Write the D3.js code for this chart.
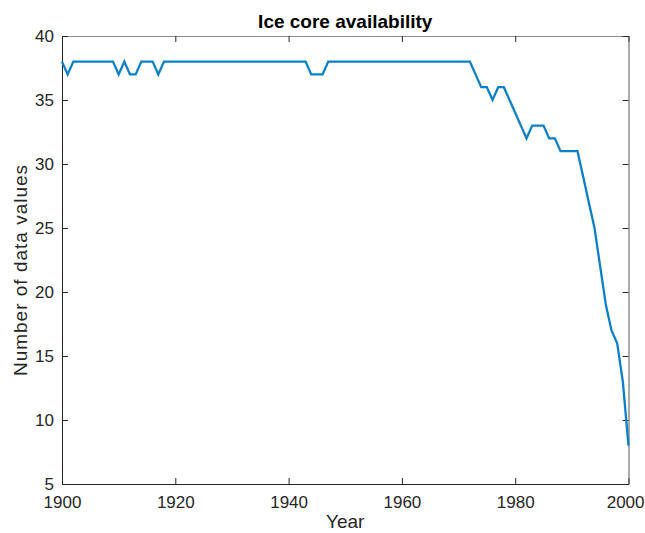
<!DOCTYPE html>
<html>
<head>
<meta charset="utf-8">
<script src="https://cdn.jsdelivr.net/npm/d3@7"></script>
<style>
  html, body { margin: 0; padding: 0; background: #fff; }
  svg { display: block; }
  text { font-family: "Liberation Sans", Arial, Helvetica, sans-serif; }
</style>
</head>
<body>
<svg id="chart" width="645" height="533"></svg>
<script>
// Number of ice core records available per year
const years = d3.range(1900, 2001);
const counts = [
  38, 37, 38, 38, 38, 38, 38, 38, 38, 38, // 1900-1909
  37, 38, 37, 37, 38, 38, 38, 37, 38, 38, // 1910-1919
  38, 38, 38, 38, 38, 38, 38, 38, 38, 38, // 1920-1929
  38, 38, 38, 38, 38, 38, 38, 38, 38, 38, // 1930-1939
  38, 38, 38, 38, 37, 37, 37, 38, 38, 38, // 1940-1949
  38, 38, 38, 38, 38, 38, 38, 38, 38, 38, // 1950-1959
  38, 38, 38, 38, 38, 38, 38, 38, 38, 38, // 1960-1969
  38, 38, 38, 37, 36, 36, 35, 36, 36, 35, // 1970-1979
  34, 33, 32, 33, 33, 33, 32, 32, 31, 31, // 1980-1989
  31, 31, 29, 27, 25, 22, 19, 17, 16, 13, // 1990-1999
  8                                       // 2000
];
const xTicks = [1900, 1920, 1940, 1960, 1980, 2000];
const yTicks = [5, 10, 15, 20, 25, 30, 35, 40];

const title = "Ice core availability";
const xLabel = "Year";
const yLabel = "Number of data values";

const svg = d3.select("#chart");
const W = 645, H = 533;
const plotLeft = 62, plotRight = 628.5, plotTop = 36, plotBottom = 484;

const x = d3.scaleLinear().domain([1900, 2000]).range([plotLeft, plotRight]);
const y = d3.scaleLinear().domain([5, 40]).range([plotBottom, plotTop]);

const axisColor = "#262626";
const tickLen = 6;

// Axes box with inward ticks on all four sides
const g = svg.append("g");

const axBottom = g.append("g").attr("transform", `translate(0,${plotBottom})`)
  .call(d3.axisBottom(x).tickValues(xTicks).tickFormat(d3.format("d"))
    .tickSizeInner(-tickLen).tickSizeOuter(0).tickPadding(12));
const axTop = g.append("g").attr("transform", `translate(0,${plotTop})`)
  .call(d3.axisTop(x).tickValues(xTicks).tickFormat("")
    .tickSizeInner(-tickLen).tickSizeOuter(0));
const axLeft = g.append("g").attr("transform", `translate(${plotLeft},0)`)
  .call(d3.axisLeft(y).tickValues(yTicks).tickFormat(d3.format("d"))
    .tickSizeInner(-tickLen).tickSizeOuter(0).tickPadding(8));
const axRight = g.append("g").attr("transform", `translate(${plotRight},0)`)
  .call(d3.axisRight(y).tickValues(yTicks).tickFormat("")
    .tickSizeInner(-tickLen).tickSizeOuter(0));

[axBottom, axTop, axLeft, axRight].forEach(a => {
  a.select(".domain").attr("stroke", axisColor).attr("stroke-width", 1);
  a.selectAll(".tick line").attr("stroke", axisColor).attr("stroke-width", 1);
  a.selectAll(".tick text").attr("fill", axisColor)
    .style("font-size", "17px")
    .style("font-family", "'Liberation Sans', Arial, Helvetica, sans-serif");
});
axTop.select(".domain").attr("stroke", "#8c8c8c");
axRight.select(".domain").attr("stroke", "#555");

// Keep the last year label inside the figure edge
axBottom.selectAll(".tick text")
  .filter(d => d === 2000)
  .attr("text-anchor", "end")
  .attr("x", 644 - plotRight);

// Data line
const line = d3.line()
  .x((d, i) => x(years[i]))
  .y(d => y(d));

g.append("path")
  .datum(counts)
  .attr("fill", "none")
  .attr("stroke", "#0A80C8")
  .attr("stroke-width", 2.3)
  .attr("stroke-linejoin", "miter")
  .attr("d", line);

// Labels
svg.append("text")
  .attr("x", (plotLeft + plotRight) / 2).attr("y", 28)
  .attr("text-anchor", "middle")
  .style("font-size", "19px").style("font-weight", "bold")
  .attr("fill", "#000")
  .text(title);

svg.append("text")
  .attr("x", (plotLeft + plotRight) / 2).attr("y", 528)
  .attr("text-anchor", "middle")
  .style("font-size", "19px")
  .attr("fill", axisColor)
  .text(xLabel);

svg.append("text")
  .attr("transform", `translate(27,${(plotTop + plotBottom) / 2 + 10}) rotate(-90)`)
  .attr("text-anchor", "middle")
  .style("font-size", "19px")
  .style("letter-spacing", "1px")
  .attr("fill", axisColor)
  .text(yLabel);
</script>
</body>
</html>
